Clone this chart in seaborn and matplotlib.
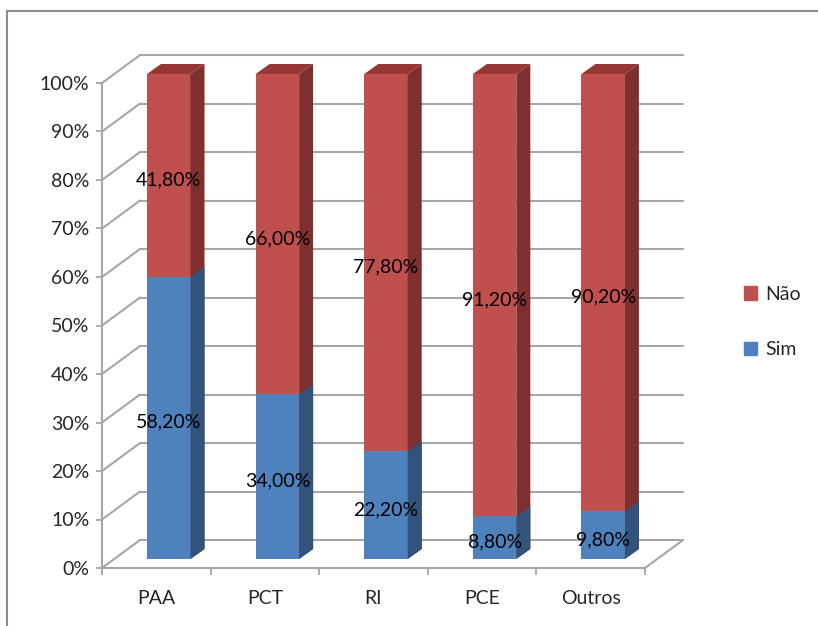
import numpy as np
import pandas as pd
import seaborn as sns
import matplotlib.pyplot as plt
from matplotlib.patches import Polygon, Patch, Rectangle
from matplotlib.transforms import Affine2D

# dados
cats = ['PAA', 'PCT', 'RI', 'PCE', 'Outros']
sim = [58.2, 34.0, 22.2, 8.8, 9.8]
nao = [41.8, 66.0, 77.8, 91.2, 90.2]
yticks = list(range(0, 101, 10))

# cores (estilo Excel)
red, red_side, red_top = '#C0504D', '#7E302E', '#953735'
blue, blue_side = '#4F81BD', '#31537C'
grid_c = '#A6A6A6'

# profundidade 3D (unidades de dados)
wall_dx, wall_dy = 0.35, 5.77
shift_dx, shift_dy = 0.115, 1.86
bar_dx, bar_dy = 0.129, 2.06

sns.set_style('white')
plt.rcParams['font.family'] = ['Lato', 'DejaVu Sans']

fig = plt.figure(figsize=(8.18, 6.26), dpi=100)
ax = fig.add_axes([102/818, (626-568)/626, 543/818, 485/626])

df = pd.DataFrame({'cat': cats, 'sim': sim, 'nao': nao})
df['total'] = df['sim'] + df['nao']

sns.barplot(data=df, x='cat', y='total', color=red, width=0.4, saturation=1, ax=ax)
sns.barplot(data=df, x='cat', y='sim', color=blue, width=0.4, saturation=1, ax=ax)

shift = Affine2D().translate(shift_dx, shift_dy) + ax.transData

for k, p in enumerate(ax.patches[:10]):
    is_red = k < 5
    z = 2 if is_red else 3
    x0, w, y0, h = p.get_x(), p.get_width(), p.get_y(), p.get_height()
    p.set_transform(shift)
    p.set_clip_on(False)
    p.set_edgecolor('none')
    p.set_zorder(z)
    side = [(x0 + w, y0), (x0 + w + bar_dx, y0 + bar_dy),
            (x0 + w + bar_dx, y0 + h + bar_dy), (x0 + w, y0 + h)]
    ax.add_patch(Polygon(side, closed=True, facecolor=red_side if is_red else blue_side,
                         edgecolor='none', transform=shift, clip_on=False, zorder=z))
    if is_red:
        top = [(x0, y0 + h), (x0 + bar_dx, y0 + h + bar_dy),
               (x0 + w + bar_dx, y0 + h + bar_dy), (x0 + w, y0 + h)]
        ax.add_patch(Polygon(top, closed=True, facecolor=red_top, edgecolor='none',
                             transform=shift, clip_on=False, zorder=z))

# grade (parede do fundo + parede lateral)
for v in yticks:
    ax.plot([-0.5 + wall_dx, 4.5 + wall_dx], [v + wall_dy, v + wall_dy],
            color=grid_c, lw=1.5, clip_on=False, zorder=1)
    ax.plot([-0.5, -0.5 + wall_dx], [v, v + wall_dy],
            color=grid_c, lw=1.5, clip_on=False, zorder=1)
ax.plot([4.5, 4.5 + wall_dx], [0, wall_dy], color=grid_c, lw=1.5, clip_on=False, zorder=1)

# rótulos de dados
fmt = lambda v: f'{v:.2f}%'.replace('.', ',')
for i in range(len(cats)):
    ax.text(i + shift_dx, sim[i] / 2 + shift_dy * 0.5, fmt(sim[i]),
            ha='center', va='center', fontsize=14, color='black', zorder=6)
    ax.text(i + shift_dx, sim[i] + nao[i] / 2 + shift_dy * 0.5, fmt(nao[i]),
            ha='center', va='center', fontsize=14, color='black', zorder=6)

# eixos
ax.set_xlim(-0.5, 4.5)
ax.set_ylim(0, 100)
ax.set_xlabel('')
ax.set_ylabel('')
ax.set_yticks(yticks)
ax.set_yticklabels([f'{v}%' for v in yticks], fontsize=14, va='top')
for t in ax.get_yticklabels():
    t.set_verticalalignment('center_baseline')
ax.set_xticks(np.arange(-0.5, 5, 1))
ax.set_xticklabels([])
ax.set_xticks(range(len(cats)), minor=True)
ax.set_xticklabels(cats, minor=True, fontsize=14)
ax.tick_params(axis='y', length=4, color=grid_c, width=1.3, pad=5, left=True)
ax.tick_params(axis='x', which='major', length=5, color=grid_c, width=1.3, bottom=True)
ax.tick_params(axis='x', which='minor', length=0, pad=16)
for s in ['top', 'right']:
    ax.spines[s].set_visible(False)
for s in ['left', 'bottom']:
    ax.spines[s].set_color(grid_c)
    ax.spines[s].set_linewidth(1.5)
ax.patch.set_alpha(0)

# legenda
handles = [Patch(color=red, label='Não'), Patch(color=blue, label='Sim')]
fig.legend(handles=handles, loc='center left', bbox_to_anchor=(726/818, 1 - 322/626),
           frameon=False, handlelength=0.7, handleheight=0.7, labelspacing=2.0,
           handletextpad=0.4, fontsize=14)

# moldura
fig.add_artist(Rectangle((7/818, -0.1), 1.2, (626 - 11)/626 + 0.1, transform=fig.transFigure,
                         fill=False, edgecolor='#8C8C8C', lw=1.5))

fig.savefig('out.png', dpi=100)
